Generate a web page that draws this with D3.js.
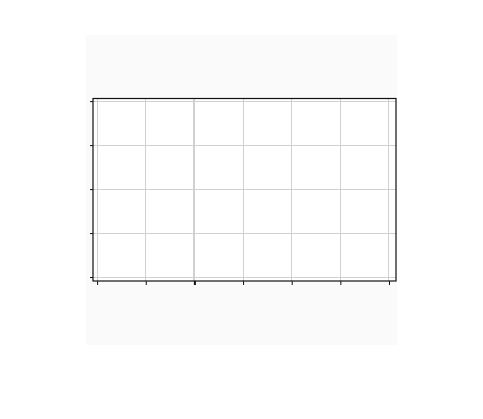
<!DOCTYPE html>
<html>
<head>
<meta charset="utf-8">
<script src="https://cdn.jsdelivr.net/npm/d3@7"></script>
<style>
  body { margin: 0; background: #fff; }
</style>
</head>
<body>
<svg id="chart" width="483" height="419"></svg>
<script>
// empty chart: only ticks, no series
const xTicks = [-2, -1, 0, 1, 2, 3, 4];
const yTicks = [0, 1, 2, 3, 4];
const seriesValues = [];

var svg = d3.select("#chart");

// figure background
svg.append("rect")
  .attr("x", 86).attr("y", 35)
  .attr("width", 311).attr("height", 310)
  .attr("fill", "#fafafa");

var margin = { top: 98.5, left: 93, right: 87, bottom: 138 },
  width = 483 - margin.left - margin.right,
  height = 419 - margin.top - margin.bottom;

var x = d3.scaleLinear().domain([-2.0845, 4.144]).range([0, width]),
  y = d3.scaleLinear().domain([-0.09, 4.06]).range([height, 0]);

var g = svg.append("g")
  .attr("transform", "translate(" + margin.left + "," + margin.top + ")");

g.append("rect")
  .attr("width", width).attr("height", height)
  .attr("fill", "#fff");

// grid
g.selectAll(".hgrid")
  .data(yTicks)
  .enter().append("line")
  .attr("class", "hgrid")
  .attr("x1", 0).attr("x2", width)
  .attr("y1", (d) => y(d)).attr("y2", (d) => y(d))
  .attr("stroke", "#d0d0d0").attr("stroke-width", 1)
  .attr("shape-rendering", "crispEdges");

g.selectAll(".vgrid")
  .data(xTicks)
  .enter().append("line")
  .attr("class", "vgrid")
  .attr("x1", (d) => x(d)).attr("x2", (d) => x(d))
  .attr("y1", 0).attr("y2", height)
  .attr("stroke", "#d0d0d0")
  .attr("stroke-width", (d) => (d === 0 ? 2 : 1))
  .attr("shape-rendering", "crispEdges");

// series (none)
g.selectAll(".dot")
  .data(seriesValues)
  .enter().append("circle")
  .attr("class", "dot")
  .attr("cx", (d, i) => x(i))
  .attr("cy", (d) => y(d))
  .attr("r", 3);

// axes
g.append("g")
  .attr("transform", "translate(0," + height + ")")
  .call(d3.axisBottom(x).tickValues(xTicks).tickSize(4).tickFormat(""))
  .call((a) => a.select(".domain").remove())
  .call((a) => a.selectAll(".tick line")
    .attr("stroke", "#111")
    .attr("stroke-width", (d) => (d === 0 ? 2 : 1)));

g.append("g")
  .call(d3.axisLeft(y).tickValues(yTicks).tickSize(3).tickFormat(""))
  .call((a) => a.select(".domain").remove())
  .call((a) => a.selectAll(".tick line").attr("stroke", "#111"));

// frame
g.append("rect")
  .attr("width", width).attr("height", height)
  .attr("fill", "none")
  .attr("stroke", "#111").attr("stroke-width", 1.2);
</script>
</body>
</html>
